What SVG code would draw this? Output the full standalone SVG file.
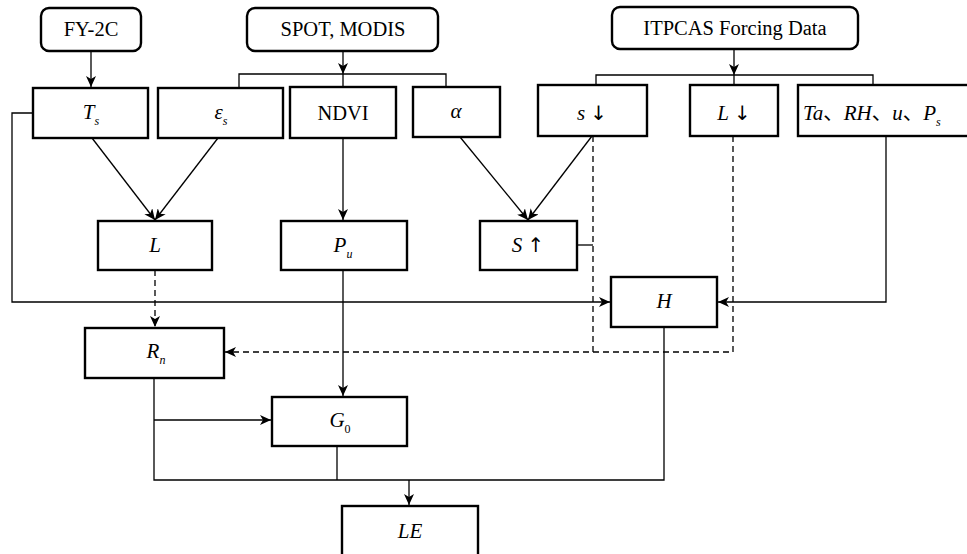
<svg xmlns="http://www.w3.org/2000/svg" width="967" height="554" viewBox="0 0 967 554">
<style>
.box{fill:#fff;stroke:#000;stroke-width:2.4}
.c{fill:none;stroke:#000;stroke-width:1.3}
.d{fill:none;stroke:#000;stroke-width:1.3;stroke-dasharray:6 4}
.t{font-family:"Liberation Serif","Times New Roman",serif;font-size:20.5px;text-anchor:middle;fill:#000}
.i{font-style:italic;font-size:21px}
.sub{font-size:12px;font-style:italic}
.ar{font-family:"DejaVu Sans",sans-serif;font-size:20px;font-style:normal;fill:#000}
</style>
<defs>
<marker id="a" markerUnits="userSpaceOnUse" markerWidth="12" markerHeight="10" refX="11" refY="5" orient="auto">
<path d="M0,0 L11,5 L0,10 L3,5 Z" fill="#000"/>
</marker>
</defs>
<rect x="0" y="0" width="967" height="554" fill="#fff"/>
<g id="connectors">
<line class="c" x1="91" y1="51" x2="91" y2="87" marker-end="url(#a)"/>
<line class="c" x1="343" y1="51" x2="343" y2="74" marker-end="url(#a)"/>
<path class="c" d="M239,87 V74 H446 V87 M343,74 V87"/>
<line class="c" x1="734" y1="49" x2="734" y2="75" marker-end="url(#a)"/>
<path class="c" d="M596,85 V75 H873 V85 M734,75 V85"/>
<line class="c" x1="92" y1="138" x2="155" y2="220" marker-end="url(#a)"/>
<line class="c" x1="218" y1="138" x2="155" y2="220" marker-end="url(#a)"/>
<line class="c" x1="343" y1="138" x2="343" y2="220" marker-end="url(#a)"/>
<line class="c" x1="460" y1="137" x2="528" y2="220" marker-end="url(#a)"/>
<line class="c" x1="592" y1="136" x2="528" y2="220" marker-end="url(#a)"/>
<path class="c" d="M33,113 H12 V302 H610" marker-end="url(#a)"/>
<path class="c" d="M886,136 V302 H718" marker-end="url(#a)"/>
<line class="d" x1="155" y1="270" x2="155" y2="327" marker-end="url(#a)"/>
<path class="d" d="M733,136 V352 H225" marker-end="url(#a)"/>
<path class="d" d="M593,136 V352"/>
<line class="c" x1="577" y1="245" x2="593" y2="245"/>
<line class="c" x1="343" y1="270" x2="343" y2="396" marker-end="url(#a)"/>
<path class="c" d="M154,378 V480 H664 V327"/>
<line class="c" x1="154" y1="420" x2="271" y2="420" marker-end="url(#a)"/>
<line class="c" x1="337" y1="446" x2="337" y2="480"/>
<line class="c" x1="409" y1="480" x2="409" y2="505" marker-end="url(#a)"/>
</g>
<g id="fy2c"><rect class="box" x="41" y="8" width="100" height="43" rx="8"/><text class="t" x="91" y="36">FY-2C</text></g>
<g id="spot"><rect class="box" x="247" y="8" width="191" height="43" rx="8"/><text class="t" x="343" y="36">SPOT, MODIS</text></g>
<g id="itpcas"><rect class="box" x="612" y="7" width="246" height="42" rx="8"/><text class="t" x="735" y="35">ITPCAS Forcing Data</text></g>
<g id="ts"><rect class="box" x="33" y="88" width="115" height="50"/><text class="t" x="91" y="119"><tspan class="i">T</tspan><tspan class="sub" dy="6">s</tspan></text></g>
<g id="es"><rect class="box" x="158" y="88" width="125" height="50"/><text class="t" x="221" y="119"><tspan class="i">ε</tspan><tspan class="sub" dy="6">s</tspan></text></g>
<g id="ndvi"><rect class="box" x="290" y="87" width="106" height="51"/><text class="t" x="343" y="120">NDVI</text></g>
<g id="alpha"><rect class="box" x="413" y="87" width="87" height="50"/><text class="t i" x="456" y="118">α</text></g>
<g id="sdown"><rect class="box" x="538" y="85" width="109" height="51"/><text class="t" x="592" y="120"><tspan class="i">s</tspan> <tspan class="ar">↓</tspan></text></g>
<g id="ldown"><rect class="box" x="690" y="85" width="88" height="51"/><text class="t" x="734" y="120"><tspan class="i">L</tspan> <tspan class="ar">↓</tspan></text></g>
<g id="met"><rect class="box" x="798" y="85" width="180" height="51"/><text class="t" x="803" y="120" style="text-anchor:start;font-family:'Liberation Serif','Noto Sans CJK SC',serif"><tspan class="i">Ta</tspan>、<tspan class="i">RH</tspan>、<tspan class="i">u</tspan>、<tspan class="i">P</tspan><tspan class="sub" dy="6">s</tspan></text></g>
<g id="l"><rect class="box" x="98" y="221" width="114" height="49"/><text class="t i" x="155" y="252">L</text></g>
<g id="pu"><rect class="box" x="281" y="221" width="126" height="49"/><text class="t" x="343" y="252"><tspan class="i">P</tspan><tspan class="sub" dy="6">u</tspan></text></g>
<g id="sup"><rect class="box" x="480" y="221" width="97" height="49"/><text class="t" x="528" y="252"><tspan class="i">S</tspan> <tspan class="ar">↑</tspan></text></g>
<g id="h"><rect class="box" x="611" y="277" width="106" height="50"/><text class="t i" x="664" y="308">H</text></g>
<g id="rn"><rect class="box" x="85" y="328" width="139" height="50"/><text class="t" x="156" y="358"><tspan class="i">R</tspan><tspan class="sub" dy="6">n</tspan></text></g>
<g id="g0"><rect class="box" x="272" y="397" width="135" height="49"/><text class="t" x="340" y="427"><tspan class="i">G</tspan><tspan class="sub" dy="6" style="font-style:normal">0</tspan></text></g>
<g id="le"><rect class="box" x="342" y="506" width="136" height="60"/><text class="t i" x="410" y="538">LE</text></g>
</svg>
